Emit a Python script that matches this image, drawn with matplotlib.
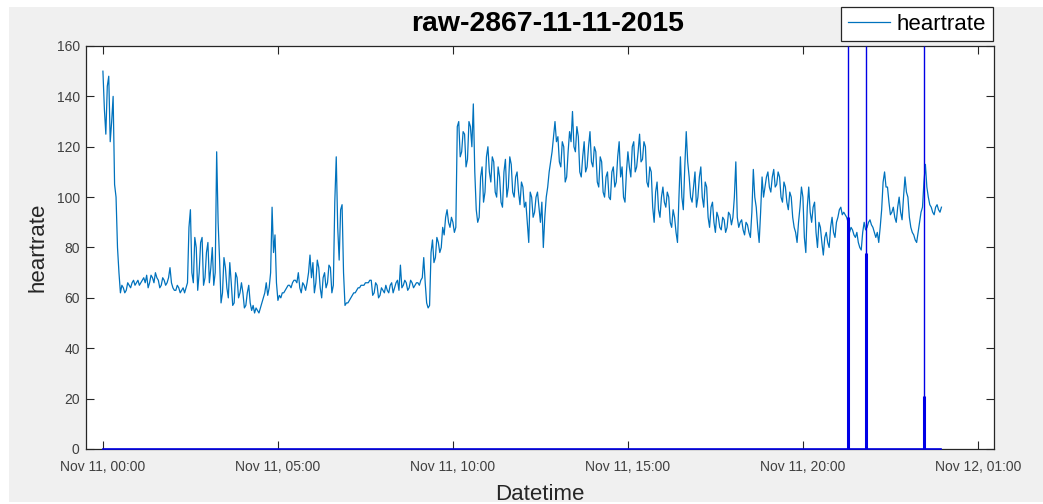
import datetime as dt

import matplotlib
matplotlib.use("Agg")
import matplotlib.pyplot as plt
import matplotlib.dates as mdates
from matplotlib.patches import Rectangle
from matplotlib.transforms import blended_transform_factory

plt.rcParams["font.family"] = ["Liberation Sans", "DejaVu Sans"]

# ---- data -----------------------------------------------------------------
title = "raw-2867-11-11-2015"
day_start = dt.datetime(2015, 11, 11, 0, 0)
sample_step_s = 150

# heart rate, one value every 2.5 minutes from 00:00 (one row per hour)
heartrate = [
    150, 135, 125, 144, 148, 122, 130, 140, 105, 100, 80, 70, 62, 65, 64, 62, 63, 66, 65, 64, 66, 67, 65, 66,
    67, 65, 66, 67, 68, 66, 69, 64, 66, 69, 68, 66, 70, 68, 67, 64, 65, 68, 67, 65, 66, 68, 72, 66,
    64, 63, 63, 65, 64, 62, 63, 64, 62, 64, 66, 88, 95, 70, 66, 84, 80, 63, 70, 82, 84, 65, 68, 78,
    82, 66, 72, 80, 65, 70, 118, 90, 75, 58, 62, 76, 72, 64, 60, 74, 66, 57, 58, 70, 68, 60, 62, 66,
    62, 56, 57, 62, 65, 58, 55, 57, 54, 56, 55, 54, 56, 58, 60, 62, 66, 61, 64, 70, 96, 78, 85, 66,
    59, 61, 60, 62, 62, 63, 64, 65, 65, 64, 66, 67, 67, 66, 70, 64, 62, 66, 65, 63, 66, 70, 77, 68,
    74, 62, 66, 75, 72, 64, 60, 68, 70, 64, 66, 73, 72, 62, 65, 98, 116, 88, 75, 95, 97, 70, 57, 58,
    58, 59, 60, 61, 62, 62, 63, 64, 64, 65, 65, 65, 66, 66, 66, 67, 67, 61, 62, 66, 65, 60, 61, 64,
    63, 62, 65, 63, 62, 65, 66, 62, 64, 66, 67, 63, 73, 64, 65, 67, 66, 63, 64, 67, 66, 64, 65, 66,
    66, 65, 67, 68, 76, 66, 58, 56, 57, 78, 83, 74, 76, 84, 82, 78, 80, 88, 85, 92, 95, 90, 88, 92,
    90, 86, 88, 128, 130, 116, 118, 126, 125, 112, 115, 130, 128, 120, 137, 110, 95, 90, 92, 108, 112, 98, 102, 116,
    120, 110, 106, 116, 114, 102, 100, 112, 108, 98, 96, 110, 115, 100, 104, 116, 113, 102, 100, 108, 110, 102, 97, 106,
    104, 96, 98, 90, 82, 102, 100, 92, 94, 100, 102, 96, 90, 98, 80, 92, 100, 104, 110, 114, 118, 124, 130, 122,
    124, 114, 112, 122, 120, 106, 108, 118, 126, 122, 134, 120, 118, 128, 124, 110, 108, 116, 122, 110, 112, 120, 126, 114,
    112, 120, 118, 106, 104, 116, 114, 102, 100, 108, 110, 100, 99, 110, 112, 104, 106, 116, 122, 108, 112, 100, 98, 110,
    118, 112, 108, 120, 122, 110, 112, 118, 125, 114, 115, 122, 120, 106, 104, 112, 110, 96, 90, 102, 106, 95, 92, 100,
    104, 98, 96, 102, 100, 90, 88, 95, 92, 86, 82, 100, 116, 100, 95, 112, 126, 114, 108, 100, 98, 104, 110, 96,
    100, 108, 112, 100, 96, 106, 104, 92, 88, 96, 98, 90, 86, 94, 92, 88, 87, 92, 91, 86, 88, 94, 93, 89,
    92, 100, 114, 92, 88, 90, 91, 87, 85, 90, 89, 86, 84, 94, 111, 100, 96, 88, 82, 94, 108, 100, 104, 108,
    110, 104, 102, 108, 111, 104, 105, 110, 108, 100, 98, 106, 104, 98, 95, 102, 100, 92, 88, 86, 82, 90, 96, 104,
    100, 84, 78, 96, 104, 94, 90, 96, 98, 86, 80, 90, 88, 82, 77, 84, 86, 82, 80, 88, 92, 86, 84, 90,
    92, 95, 96, 93, 94, 93, 92, 90, 86, 88, 87, 85, 84, 86, 82, 80, 79, 86, 90, 87, 88, 90, 91, 89,
    88, 86, 84, 86, 82, 88, 95, 106, 110, 104, 104, 98, 93, 94, 96, 92, 90, 96, 100, 94, 91, 100, 108, 102,
    100, 92, 88, 86, 85, 83, 82, 86, 90, 94, 96, 106, 113, 104, 100, 97, 96, 94, 93, 96, 97, 95, 94, 96,
]

# event markers: time (hours after midnight) and height of the heavy stem
event_hours = [21.28, 21.80, 23.47]
event_stem = [92, 78, 21]

x_tick_hours = [0, 5, 10, 15, 20, 25]
y_ticks = [0, 20, 40, 60, 80, 100, 120, 140, 160]

# ---- figure -----------------------------------------------------------------
hr_color = "#0072BD"
event_color = "#0000E6"
ink = "#262626"

fig = plt.figure(figsize=(10.43, 5.04), dpi=100, facecolor="white")
fig.patches.append(Rectangle((9 / 1043, 2 / 504), 1 - 9 / 1043, 1 - 9 / 504,
                             transform=fig.transFigure, facecolor="#f0f0f0",
                             edgecolor="none", zorder=-10))

ax = fig.add_axes([86 / 1043, 55 / 504, 908 / 1043, 403 / 504])
ax.set_facecolor("white")

times = [day_start + dt.timedelta(seconds=sample_step_s * i)
         for i in range(len(heartrate))]
ax.plot(times, heartrate, color=hr_color, lw=0.9, label="heartrate", zorder=3)

# event channel: zero baseline over the recording, stems at each event
ev_times = [day_start + dt.timedelta(hours=h) for h in event_hours]
ax.plot([times[0], times[-1]], [0, 0], color=event_color, lw=1.2,
        zorder=4, clip_on=False)
trans = blended_transform_factory(ax.transData, ax.transAxes)
ax.vlines(ev_times, 0, 1, transform=trans, color=event_color, lw=1.0, zorder=4)
ax.vlines(ev_times, 0, event_stem, color=event_color, lw=2.2, zorder=4)

ax.set_xlim(day_start - dt.timedelta(minutes=29),
            day_start + dt.timedelta(hours=25.46))
ax.set_ylim(0, 160)
ax.set_xticks([day_start + dt.timedelta(hours=h) for h in x_tick_hours])
ax.xaxis.set_major_formatter(mdates.DateFormatter("%b %d, %H:%M"))
ax.set_yticks(y_ticks)

ax.tick_params(direction="in", length=6, width=0.8, color=ink,
               labelcolor="#404040", labelsize=10, top=True, right=True)
ax.tick_params(axis="x", pad=8)
ax.tick_params(axis="y", pad=4.5)
for s in ax.spines.values():
    s.set_color(ink)
    s.set_linewidth(0.9)

ax.set_xlabel("Datetime", fontsize=16, color=ink, labelpad=7)
ax.set_ylabel("heartrate", fontsize=16, color=ink, labelpad=6)
ax.set_title(title, fontsize=20.4, fontweight="bold", color="black", pad=11,
             x=0.508)

leg = ax.legend(loc="upper right", bbox_to_anchor=(993 / 1043, 497 / 504),
                bbox_transform=fig.transFigure, borderaxespad=0,
                fontsize=16, frameon=True, fancybox=False, framealpha=1,
                edgecolor=ink, borderpad=0.3, handlelength=1.9,
                handletextpad=0.3)
leg.get_frame().set_linewidth(0.9)
leg.set_zorder(10)

fig.savefig("out.png", dpi=100, facecolor=fig.get_facecolor())
